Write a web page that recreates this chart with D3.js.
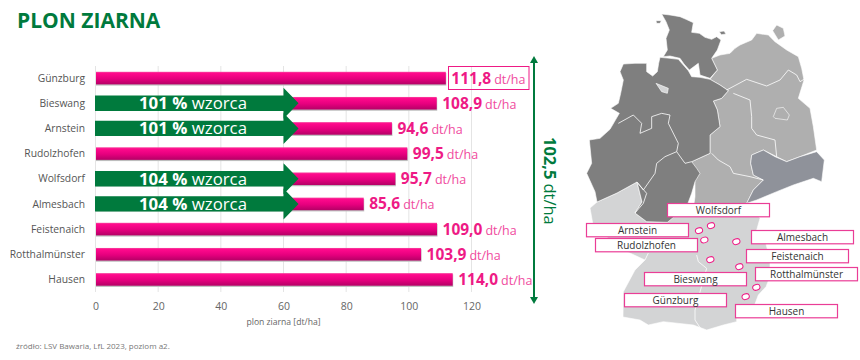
<!DOCTYPE html>
<html>
<head>
<meta charset="utf-8">
<script src="https://cdn.jsdelivr.net/npm/d3@7"></script>
<style>
    html, body { margin: 0; padding: 0; background: #fff; }
    svg { display: block; }
    text { font-family: "Open Sans", sans-serif; }
</style>
</head>
<body>
<svg id="chart" width="860" height="360"></svg>
<script>
// chart data
var categories = ["Günzburg", "Bieswang", "Arnstein", "Rudolzhofen", "Wolfsdorf", "Almesbach", "Feistenaich", "Rotthalmünster", "Hausen"];
var yields = [111.8, 108.9, 94.6, 99.5, 95.7, 85.6, 109.0, 103.9, 114.0];
var percentOfStandard = [null, 101, 101, null, 104, 104, null, null, null];
var xTicks = [0, 20, 40, 60, 80, 100, 120];
var meanYield = 102.5;
var unit = "dt/ha";

// map shapes, in a 3x space (x from 580, y from 0)
var mapNorthA = [[245,42],[270,45],[300,50],[318,58],[340,68],[335,97],[358,100],[375,112],[395,118],[410,110],[423,120],[412,150],[395,175],[412,210],[390,235],[360,225],[355,190],[328,210],[312,192],[300,175],[270,168],[250,170],[262,150],[258,115],[268,90],[258,65]];
var mapNorthB = [[240,172],[270,175],[295,178],[325,212],[335,230],[360,232],[390,238],[420,255],[445,272],[425,295],[400,303],[412,330],[420,380],[390,405],[390,460],[335,485],[350,505],[360,520],[345,545],[335,580],[320,620],[262,667],[200,665],[165,639],[186,606],[171,546],[111,579],[51,606],[45,575],[20,520],[35,490],[28,420],[60,415],[90,388],[118,340],[92,325],[115,310],[122,280],[130,240],[120,215],[130,192],[165,190],[200,190],[200,215],[218,228],[232,215],[236,190]];
var mapEast = [[345,545],[335,485],[390,460],[390,405],[420,380],[412,330],[400,303],[425,295],[445,272],[420,255],[390,238],[412,210],[395,175],[420,165],[450,160],[465,145],[480,135],[515,120],[530,100],[565,105],[585,125],[620,150],[655,170],[665,205],[672,240],[655,295],[690,325],[700,380],[710,450],[660,470],[620,485],[590,470],[550,450],[515,465],[512,490],[520,525],[550,540],[520,570],[500,610],[430,620],[340,625],[345,590]];
var mapSaxony = [[515,465],[550,450],[585,470],[620,485],[660,470],[710,455],[733,480],[725,545],[700,535],[640,555],[590,575],[530,600],[500,610],[520,570],[550,540],[520,525],[512,490]];
var mapSouth = [[30,624],[51,606],[111,579],[171,546],[186,606],[165,639],[201,666],[262,666],[262,640],[340,620],[500,600],[540,655],[530,690],[555,720],[570,780],[570,830],[558,860],[535,885],[520,925],[470,930],[470,965],[430,975],[380,990],[340,975],[250,965],[205,975],[180,960],[129,951],[130,875],[165,810],[195,780],[130,750],[40,680]];
var mapRuegen = [[578,92],[590,75],[610,85],[615,108],[595,120]];
var mapFehmarn = [[418,95],[432,93],[438,102],[424,104]];
var mapSylt = [[228,62],[244,62],[240,70],[230,70]];
var mapBremen = [[228,250],[265,265],[262,280],[245,275]];
var mapBerlin = [[580,350],[590,325],[610,322],[628,345],[622,360],[585,355]];
var mapBorders = [
    [[115,370],[160,345],[185,370],[180,400],[215,385],[215,350],[245,340],[270,345],[265,370],[295,430],[290,455],[315,490],[335,485]],
    [[290,455],[255,470],[230,490],[225,520],[190,570],[171,546]],
    [[440,270],[500,238],[560,258],[600,240],[625,210],[650,225],[660,245],[672,238]],
    [[460,280],[510,300],[515,350],[515,385],[530,405],[585,420],[590,470]],
    [[395,460],[415,480],[450,500],[460,520],[510,530],[550,540]],
    [[350,765],[355,785],[380,805],[370,840],[345,930],[345,960],[365,990]],
    [[205,759],[195,780]],
    [[172,548],[200,580],[190,610],[165,639]]
];
var mapDots = [[393,677],[357,692],[373,720],[469,725],[391,779],[478,800],[529,862],[497,890]];
var mapLabels = ["Wolfsdorf", "Arnstein", "Rudolzhofen", "Almesbach", "Feistenaich", "Rotthalmünster", "Bieswang", "Günzburg", "Hausen"];
var mapLabelX = [667, 586, 595, 751, 746, 755, 644, 624, 735];
var mapLabelY = [203, 223, 238, 230, 249, 267, 272, 293, 304];

var svg = d3.select("#chart");
var green = "#007a3d";
var pink = "#ee1a85";

var defs = svg.append("defs");
var grad = defs.append("linearGradient")
    .attr("id", "barFill")
    .attr("x1", 0).attr("x2", 0).attr("y1", 0).attr("y2", 1);
grad.append("stop").attr("offset", "0%").attr("stop-color", "#f5479f");
grad.append("stop").attr("offset", "12%").attr("stop-color", "#ff0a8c");
grad.append("stop").attr("offset", "55%").attr("stop-color", "#e6007e");
grad.append("stop").attr("offset", "100%").attr("stop-color", "#b50066");

var x = d3.scaleLinear().domain([0, 120]).range([95.5, 471.5]);
var y = d3.scaleBand().domain(categories).range([65.5, 292]).paddingInner(0.5).paddingOuter(0.25);

// title and source
svg.append("text").attr("x", 17).attr("y", 27.5)
    .attr("font-size", 21).attr("font-weight", 700).attr("fill", green)
    .text("PLON ZIARNA");
svg.append("text").attr("x", 16).attr("y", 349)
    .attr("font-size", 8).attr("fill", "#777")
    .text("źródło: LSV Bawaria, LfL 2023, poziom a2.");

// grid
svg.append("g").selectAll("line").data(xTicks).enter().append("line")
    .attr("x1", function(d) { return x(d); })
    .attr("x2", function(d) { return x(d); })
    .attr("y1", 66).attr("y2", 292)
    .attr("stroke", "#e4e4e4").attr("stroke-width", 1);

// x axis
var axis = svg.append("g")
    .attr("transform", "translate(0,303)")
    .call(d3.axisBottom(x).tickValues(xTicks).tickSize(0).tickPadding(0));
axis.select(".domain").remove();
axis.selectAll("text")
    .attr("font-size", 10.5).attr("fill", "#666")
    .style("font-family", '"Open Sans", sans-serif');
svg.append("text").attr("x", 283.5).attr("y", 325)
    .attr("text-anchor", "middle").attr("font-size", 8.6).attr("fill", "#666")
    .text("plon ziarna [dt/ha]");

// category labels
svg.append("g").selectAll("text").data(categories).enter().append("text")
    .attr("x", 85)
    .attr("y", function(d) { return y(d) + y.bandwidth() / 2 + 3.6; })
    .attr("text-anchor", "end").attr("font-size", 10.3).attr("fill", "#555")
    .text(function(d) { return d; });

// bars
var rows = categories.map(function(c, i) {
    return {name: c, value: yields[i], pct: percentOfStandard[i]};
});
var bars = svg.append("g").selectAll("g").data(rows).enter().append("g");
bars.append("rect")
    .attr("x", x(0) + 0.5)
    .attr("y", function(d) { return y(d.name) + 1.2; })
    .attr("width", function(d) { return x(d.value) - x(0); })
    .attr("height", y.bandwidth())
    .attr("fill", "#bdbdbd");
bars.append("rect")
    .attr("x", x(0) + 0.5)
    .attr("y", function(d) { return y(d.name); })
    .attr("width", function(d) { return x(d.value) - x(0) - 0.5; })
    .attr("height", y.bandwidth())
    .attr("fill", "url(#barFill)");

// value labels
var fmt = function(v) { return v.toFixed(1).replace(".", ","); };
var valueText = svg.append("g").selectAll("text").data(rows).enter().append("text")
    .attr("x", function(d) { return x(d.value) + 5.5; })
    .attr("y", function(d) { return y(d.name) + y.bandwidth() / 2 + 5.5; })
    .attr("fill", pink);
valueText.append("tspan")
    .attr("font-size", 15.5).attr("font-weight", 700)
    .text(function(d) { return fmt(d.value); });
valueText.append("tspan")
    .attr("font-size", 12.5).attr("dx", 3).attr("fill", "#f04a9e")
    .text(unit);

// box round the first value
svg.append("rect")
    .attr("x", 448.5).attr("y", 66.5).attr("width", 80.5).attr("height", 23)
    .attr("fill", "none").attr("stroke", pink).attr("stroke-width", 1);

// green arrows
var arrowRows = rows.filter(function(d) { return d.pct !== null; });
var arrows = svg.append("g").selectAll("g").data(arrowRows).enter().append("g");
arrows.append("path")
    .attr("fill", green)
    .attr("d", function(d) {
        var c = y(d.name) + y.bandwidth() / 2;
        var x0 = x(0) - 0.5, x1 = x(60), x2 = x(64.8);
        return d3.line()([[x0, c - 7.7], [x1, c - 7.7], [x1, c - 15.5], [x2, c], [x1, c + 15.5], [x1, c + 7.7], [x0, c + 7.7]]) + "Z";
    });
var arrowText = arrows.append("text")
    .attr("x", 139)
    .attr("y", function(d) { return y(d.name) + y.bandwidth() / 2 + 5.8; })
    .attr("fill", "#fff");
arrowText.append("tspan")
    .attr("font-size", 16.8).attr("font-weight", 700)
    .text(function(d) { return d.pct + " %"; });
arrowText.append("tspan")
    .attr("font-size", 16.8).attr("dx", 4.5)
    .text("wzorca");

// mean arrow on the right
var meanX = 534;
svg.append("line")
    .attr("x1", meanX).attr("x2", meanX).attr("y1", 60).attr("y2", 299)
    .attr("stroke", green).attr("stroke-width", 2);
svg.append("path").attr("fill", green)
    .attr("d", "M" + (meanX - 4) + ",63L" + meanX + ",56L" + (meanX + 4) + ",63Z");
svg.append("path").attr("fill", green)
    .attr("d", "M" + (meanX - 4) + ",297L" + meanX + ",304L" + (meanX + 4) + ",297Z");
var meanText = svg.append("text")
    .attr("transform", "translate(544,137) rotate(90)")
    .attr("fill", green);
meanText.append("tspan").attr("font-size", 16.5).attr("font-weight", 700).text(fmt(meanYield));
meanText.append("tspan").attr("font-size", 16.5).attr("dx", 4).text(unit);

// map
var mapX = d3.scaleLinear().domain([0, 840]).range([580, 860]);
var mapY = d3.scaleLinear().domain([0, 1080]).range([0, 360]);
var mapLine = d3.line().x(function(d) { return mapX(d[0]); }).y(function(d) { return mapY(d[1]); });
var map = svg.append("g");
function region(points, fill) {
    map.append("path").attr("d", mapLine(points) + "Z").attr("fill", fill)
        .attr("stroke", "#fff").attr("stroke-width", 0.6).attr("stroke-linejoin", "round");
}
region(mapSouth, "#d3d4d5");
region(mapEast, "#afafaf");
region(mapRuegen, "#afafaf");
region(mapSaxony, "#8f929a");
region(mapNorthB, "#7f7f7f");
region(mapNorthA, "#7f7f7f");
region(mapFehmarn, "#7f7f7f");
region(mapSylt, "#7f7f7f");
region(mapBremen, "#d3d4d5");
region(mapBerlin, "#afafaf");
map.selectAll("path.border").data(mapBorders).enter().append("path")
    .attr("class", "border")
    .attr("d", function(d) { return mapLine(d); })
    .attr("fill", "none").attr("stroke", "#fff").attr("stroke-width", 0.8);

map.selectAll("ellipse").data(mapDots).enter().append("ellipse")
    .attr("transform", function(d) { return "translate(" + mapX(d[0]) + "," + mapY(d[1]) + ") rotate(-20)"; })
    .attr("rx", 3.7).attr("ry", 2.8)
    .attr("fill", "#fff").attr("stroke", pink).attr("stroke-width", 1);

var tags = map.selectAll("g.tag").data(mapLabels).enter().append("g").attr("class", "tag");
tags.append("rect")
    .attr("x", function(d, i) { return mapLabelX[i] + 0.5; })
    .attr("y", function(d, i) { return mapLabelY[i] + 0.5; })
    .attr("width", 102).attr("height", 13.3)
    .attr("fill", "#fff").attr("stroke", "#ea3d96").attr("stroke-width", 1.2);
tags.append("text")
    .attr("x", function(d, i) { return mapLabelX[i] + 51.5; })
    .attr("y", function(d, i) { return mapLabelY[i] + 10.8; })
    .attr("text-anchor", "middle").attr("font-size", 10).attr("fill", "#333")
    .text(function(d) { return d; });
</script>
</body>
</html>
